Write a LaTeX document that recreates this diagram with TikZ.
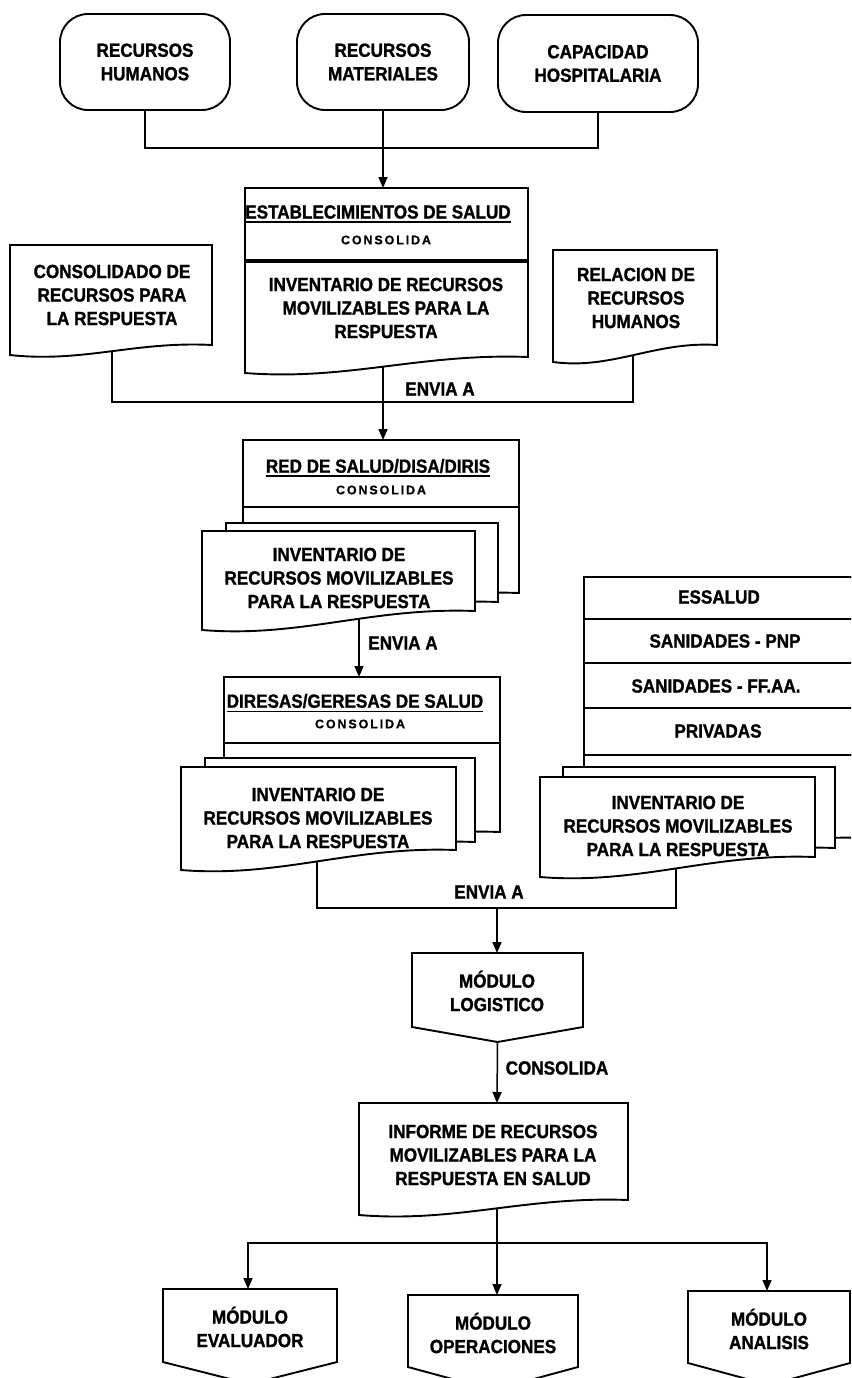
\documentclass[tikz,border=0pt]{standalone}
\usepackage{fontspec}
\setmainfont{Liberation Sans}[BoldFeatures={FakeStretch=0.9,FakeBold=1.2}]
\newfontfamily\smallfnt{Liberation Sans}[BoldFeatures={LetterSpace=15,FakeBold=0.8}]
\usetikzlibrary{arrows.meta}
\newcommand{\docshape}[5]{\draw[shp] (#1,#2) -- (#3,#2) -- (#3,#5) .. controls ({#1+0.62*(#3-#1)},{#5-4}) and ({#1+0.36*(#3-#1)},{#4+8}) .. (#1,#4) -- cycle;}
\newcommand{\modshape}[5]{\draw[shp] (#1,#2) -- (#3,#2) -- (#3,#4) -- ({(#1+#3)/2},#5) -- (#1,#4) -- cycle;}
\tikzset{
  shp/.style={draw=black, fill=white, line width=1.9pt, line join=miter},
  con/.style={draw=black, line width=1.5pt},
  arr/.style={con, -{Triangle[length=11pt,width=9pt]}},
  big/.style={font=\fontsize{19}{23.5}\selectfont\bfseries, align=center, inner sep=0pt},
  small/.style={font=\fontsize{12.5}{14}\smallfnt\bfseries, inner sep=0pt},
  term/.style={draw=black, line width=1.9pt, rounded corners=28pt, big},
  uline/.style={line width=1.4pt}
}
\begin{document}
\begin{tikzpicture}[x=1pt,y=-1pt]
\useasboundingbox (0,0) rectangle (851,1378);
\clip (0,0) rectangle (851,1378);
\fill[white] (0,0) rectangle (851,1378);

% ---------- top terminals ----------
\node[term, minimum width=170pt, minimum height=96pt] (rh) at (145,62) {RECURSOS\\HUMANOS};
\node[term, minimum width=172pt, minimum height=96pt] (rm) at (383,62) {RECURSOS\\MATERIALES};
\node[term, minimum width=200pt, minimum height=97pt] (ch) at (598,63.5) {CAPACIDAD\\HOSPITALARIA};
\coordinate (j1) at (383,148);
\draw[con] (rh.south) |- (j1) -| (ch.south);

% ---------- establecimientos ----------
\draw[shp] (245,188) rectangle (528,261);
\docshape{245}{261}{528}{373}{357}
\draw[line width=4pt] (245,261) -- (528,261);
\coordinate (estop) at (383,188);
\coordinate (esb) at (383,366);
\draw[arr] (rm.south) -- (estop);
\node[big] (est) at (378,212) {ESTABLECIMIENTOS DE SALUD};
\draw[uline] ([yshift=-3.5pt]est.base west) -- ([yshift=-3.5pt]est.base east);
\node[small] (esc) at (386,240) {CONSOLIDA};
\node[big] (esi) at (386,308) {INVENTARIO DE RECURSOS\\MOVILIZABLES PARA LA\\RESPUESTA};

% side documents
\docshape{10}{245}{212}{355}{345}
\node[big] (crp) at (112,295) {CONSOLIDADO DE\\RECURSOS PARA\\LA RESPUESTA};
\docshape{553}{250}{717}{362}{345}
\node[big] (rrh) at (636,298) {RELACION DE\\RECURSOS\\HUMANOS};
\coordinate (crpb) at (112,351);
\coordinate (rrhb) at (633,354.5);
\coordinate (j2) at (383,402);
\draw[con] (crpb) |- (j2) -| (rrhb);
\coordinate (redtop) at (383,440);
\draw[arr] (esb) -- (redtop);
\node[big] (env1) at (440,389) {ENVIA A};

% ---------- red de salud ----------
\docshape{243}{440}{519}{610}{593}
\draw[shp] (243,440) rectangle (519,507);
\docshape{226}{523}{498}{620}{602}
\docshape{202}{531}{475}{630}{611}
\node[big] (redt) at (378,466) {RED DE SALUD/DISA/DIRIS};
\draw[uline] ([yshift=-3.5pt]redt.base west) -- ([yshift=-3.5pt]redt.base east);
\node[small] (redc) at (381,490) {CONSOLIDA};
\node[big] (redi) at (339,578) {INVENTARIO DE\\RECURSOS MOVILIZABLES\\PARA LA RESPUESTA};
\coordinate (redb) at (359,619);
\coordinate (dirtop) at (359,677);
\draw[arr] (redb) -- (dirtop);
\node[big] (env2) at (403,643) {ENVIA A};

% ---------- diresas ----------
\docshape{224}{677}{500}{850}{832}
\draw[shp] (224,677) rectangle (500,743);
\docshape{205}{758}{475}{860}{842}
\docshape{181}{767}{456}{870}{850}
\node[big] (dirt) at (355,701) {DIRESAS/GERESAS DE SALUD};
\draw[uline] ([yshift=-3.5pt]dirt.base west) -- ([yshift=-3.5pt]dirt.base east);
\node[small] (dirc) at (360,724) {CONSOLIDA};
\node[big] (diri) at (318,818) {INVENTARIO DE\\RECURSOS MOVILIZABLES\\PARA LA RESPUESTA};

% ---------- right stack ----------
\docshape{584}{577}{870}{855}{838}
\draw[shp] (584,577) rectangle (870,755);
\draw[line width=2.6pt] (584,619) -- (870,619);
\draw[line width=2.6pt] (584,663) -- (870,663);
\draw[line width=2.6pt] (584,708) -- (870,708);
\draw[line width=2.6pt] (584,755) -- (870,755);
\docshape{563}{767}{835}{865}{848}
\docshape{540}{777}{815}{877}{857}
\node[big] (ess) at (719,597) {ESSALUD};
\node[big] (pnp) at (725,641) {SANIDADES - PNP};
\node[big] (ffaa) at (716,686) {SANIDADES - FF.AA.};
\node[big] (priv) at (718,731) {PRIVADAS};
\node[big] (pri) at (678,826) {INVENTARIO DE\\RECURSOS MOVILIZABLES\\PARA LA RESPUESTA};

% ---------- connector to modulo logistico ----------
\coordinate (dfb) at (317,861);
\coordinate (pfb) at (676,868);
\coordinate (j3) at (497,908);
\draw[con] (dfb) |- (j3) -| (pfb);
\node[big] (env3) at (489,892) {ENVIA A};

\modshape{412}{953}{583}{1027}{1042}
\node[big] (ml) at (497,991) {MÓDULO\\LOGISTICO};
\coordinate (mltop) at (497,953);
\coordinate (mlbot) at (497.5,1042);
\draw[arr] (j3) -- (mltop);

% ---------- informe ----------
\docshape{359}{1103}{628}{1215}{1200}
\node[big] (inf) at (493,1155) {INFORME DE RECURSOS\\MOVILIZABLES PARA LA\\RESPUESTA EN SALUD};
\coordinate (inftop) at (497,1103);
\draw[arr] (mlbot) -- (inftop);
\node[big] (cons) at (557,1068) {CONSOLIDA};

% ---------- modules ----------
\modshape{163}{1289}{337}{1362}{1384}
\modshape{408}{1295}{578}{1367}{1390}
\modshape{688}{1291}{850}{1363}{1385}
\node[big] (ev) at (250,1327) {MÓDULO\\EVALUADOR};
\node[big] (op) at (493,1333) {MÓDULO\\OPERACIONES};
\node[big] (an) at (769,1329) {MÓDULO\\ANALISIS};
\coordinate (infb) at (497,1208);
\coordinate (j4) at (497,1243);
\coordinate (evtop) at (248,1289);
\coordinate (optop) at (497,1295);
\coordinate (antop) at (767,1291);
\draw[con] (infb) -- (j4);
\draw[arr] (j4) -| (evtop);
\draw[arr] (j4) -- (optop);
\draw[arr] (j4) -| (antop);
\end{tikzpicture}
\end{document}
